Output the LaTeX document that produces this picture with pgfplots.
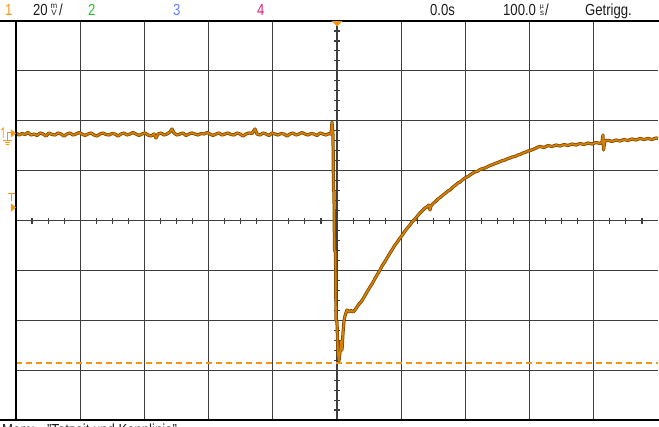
\documentclass[border=0pt]{standalone}
\usepackage{fontspec}
\setmainfont{Liberation Sans}
\usepackage{pgfplots}
\pgfplotsset{compat=1.18}
\usepackage{pgfplotstable}

\definecolor{gridc}{RGB}{62,62,62}
\definecolor{trdark}{RGB}{128,72,0}
\definecolor{trmain}{RGB}{210,128,6}
\definecolor{chone}{RGB}{242,150,24}
\definecolor{chtwo}{RGB}{40,190,40}
\definecolor{chthree}{RGB}{100,130,255}
\definecolor{chfour}{RGB}{220,30,120}
\definecolor{txt}{RGB}{28,28,28}

% trace of channel 1, in screen pixels (x right, y down)
\pgfplotstableread{
x y
16 133
19 135
22 133.5
25 134.5
28 132.5
31 135
34 134
37 135.5
40 133
43 134
46 136
49 133
52 134.5
55 135
58 133
61 134
64 136
67 134
70 133
73 135
76 134
79 132.5
82 134
85 135.5
88 134
91 133
94 135
97 136
100 134
103 133
106 134.5
109 135
112 133.5
115 134
118 136
121 134
124 133
127 135
130 134
133 132.5
136 134
139 135.5
142 134
145 133
148 135
151 136
154 134
156 138
158 134
161 133
164 135
167 134
170 132
172 129
174 133
177 135
180 134
183 133
186 135.5
189 134
192 133
195 134
198 135
201 133.5
204 134
207 132.5
210 134
213 135.5
216 134
219 133
222 135
225 134
228 133
231 134.5
234 135
237 133
240 134
243 136
246 134
249 133
252 133.5
255 129
257 134
260 135
263 133
266 134
269 135.5
272 133
275 134
278 135
281 133.5
284 134
287 136
290 134
293 133
296 135
299 134
302 132.5
305 134
308 135
311 133.5
314 134
317 135.5
320 133
323 134
326 135
329 133.5
331 134
332 122
333 135
333.5 190
334 192
334.5 250
335.5 252
336 320
337 322
338 355
339 361
340 352
341 341
342 350
343 333
344 321
345 316
346 313
347 310
349 312
351 310.5
353 312
355 310
357 307
359 304
361 302
363 299
365 295.5
367 292
370 287
372 284
375 278.5
377 275
380 270
382 266
385 261.5
387 258
390 253
392 250
395 245
397 242.5
400 238
402 235.5
405 231
407 228.5
410 225
412 222
415 219
417 216.5
420 213
422 211
425 208
427 207
429 205
430 210
431 206
433 203.5
435 202
438 199
440 197.5
443 195
445 193.5
448 191
450 190
453 187
455 185.5
458 183
460 182
463 179.5
465 178
468 176.5
470 175
473 173
475 172
478 171
480 169.5
483 168.5
485 168
488 166.5
490 165.5
493 164.5
495 163.5
498 162.5
500 161.5
503 160.5
505 160
508 158.5
510 158
512 157
515 156.5
518 155
520 154.5
523 153
525 152.5
528 151
530 150.5
533 149.5
535 148.5
538 147
540 146.5
544 147.5
548 145.5
552 146.5
556 145
560 146
564 144.5
568 145.5
572 144
576 145
580 143.5
584 144.5
588 143
592 144
596 142.5
600 143.5
602 142
603 135
603.5 150
605 140.5
609 140.5
612 141.5
616 140
620 141
624 139.5
628 140.5
632 139
636 140
640 138.5
644 139.5
648 138.5
652 139.5
656 138
658 138.5
}\tracech

\begin{document}
\begin{tikzpicture}[
  scr/.style={inner sep=0pt, xscale=0.82, font=\fontsize{16}{16}\selectfont},
  sml/.style={inner sep=0pt, anchor=base, text=txt, font=\fontsize{#1}{#1}\selectfont},
]
\begin{axis}[
  at={(16pt,6pt)}, anchor=south west,
  scale only axis, width=642pt, height=399pt,
  xmin=16, xmax=658, ymin=21, ymax=420, y dir=reverse,
  xtick={80.2,144.4,208.6,272.8,337,401.2,465.4,529.6,593.8},
  ytick={70.875,120.75,170.625,220.5,270.375,320.25,370.125},
  xticklabels={}, yticklabels={},
  major tick length=0pt,
  grid=major,
  major grid style={gridc, line width=1.2pt},
  axis line style={draw=none},
  clip=false,
]
% small ticks on the centre cross
\pgfplotsinvokeforeach{1,...,39}{
  \draw[gridc, line width=1.1pt] (axis cs:{16+#1*16.05},217.5) -- (axis cs:{16+#1*16.05},223.5);
  \draw[gridc, line width=1.1pt] (axis cs:334,{21+#1*9.975}) -- (axis cs:340,{21+#1*9.975});
}
% cursor
\draw[chone, line width=1.2pt, dash pattern=on 6pt off 4pt] (axis cs:16,363) -- (axis cs:658,363);

\addplot[trdark, line width=3.2pt, line join=round] table {\tracech};
\addplot[trmain, line width=1.7pt, line join=round] table {\tracech};

% screen frame
\draw[black, line width=1.6pt] (axis cs:0,21) -- (axis cs:659,21);
\draw[black, line width=1.6pt] (axis cs:0,420) -- (axis cs:659,420);
\draw[black, line width=1.6pt] (axis cs:16,21) -- (axis cs:16,420);

% markers
\fill[chone] (axis cs:331.5,21) -- (axis cs:342.5,21) -- (axis cs:337,26.5) -- cycle;
\fill[chone] (axis cs:11,129.3) -- (axis cs:16,133.3) -- (axis cs:11,137.3) -- cycle;
\draw[chone, line width=0.9pt] (axis cs:1.5,130) -- (axis cs:3.3,128) -- (axis cs:3.3,138);
\draw[chone, line width=0.9pt] (axis cs:11.5,132.7) -- (axis cs:7.3,132.7) -- (axis cs:7.3,140.7);
\draw[chone, line width=0.9pt] (axis cs:3.3,140.7) -- (axis cs:11.7,140.7);
\draw[chone, line width=0.9pt] (axis cs:5,142.7) -- (axis cs:10,142.7);
\draw[chone, line width=0.9pt] (axis cs:6.3,144.7) -- (axis cs:8.7,144.7);
\draw[chone, line width=0.9pt] (axis cs:8.3,193.3) -- (axis cs:15,193.3);
\draw[chone, line width=0.9pt] (axis cs:11.7,193.3) -- (axis cs:11.7,200.7);
\fill[chone] (axis cs:11,203.3) -- (axis cs:16,207.5) -- (axis cs:11,211.7) -- cycle;

% header
\node[scr, anchor=base west, text=chone] at (axis cs:5,15) {1};
\node[scr, anchor=base west, text=txt] at (axis cs:33,15) {20};
\node[sml=8] at (axis cs:54,8.3) {m};
\node[sml=8] at (axis cs:54,15) {V};
\node[scr, anchor=base west, text=txt] at (axis cs:59,15) {/};
\node[scr, anchor=base west, text=chtwo] at (axis cs:88,15) {2};
\node[scr, anchor=base west, text=chthree] at (axis cs:173,15) {3};
\node[scr, anchor=base west, text=chfour] at (axis cs:257,15) {4};
\node[scr, anchor=base west, text=txt] at (axis cs:430,15) {0.0s};
\node[scr, anchor=base west, text=txt] at (axis cs:503,15) {100.0};
\node[sml=7] at (axis cs:542,8) {µ};
\node[sml=8] at (axis cs:542,15) {s};
\node[scr, anchor=base west, text=txt] at (axis cs:545,15) {/};
\node[scr, anchor=base west, text=txt] at (axis cs:585,15) {Getrigg.};
% bottom line, cut off by the edge of the picture
\node[scr, anchor=base west, text=txt] at (axis cs:2,435.5) {Mem: \ \ "Totzeit und Kennlinie"};

\coordinate (bbA) at (axis cs:0,426);
\coordinate (bbB) at (axis cs:659,0);
\end{axis}
\pgfresetboundingbox
\useasboundingbox (bbA) rectangle (bbB);
\end{tikzpicture}
\end{document}
